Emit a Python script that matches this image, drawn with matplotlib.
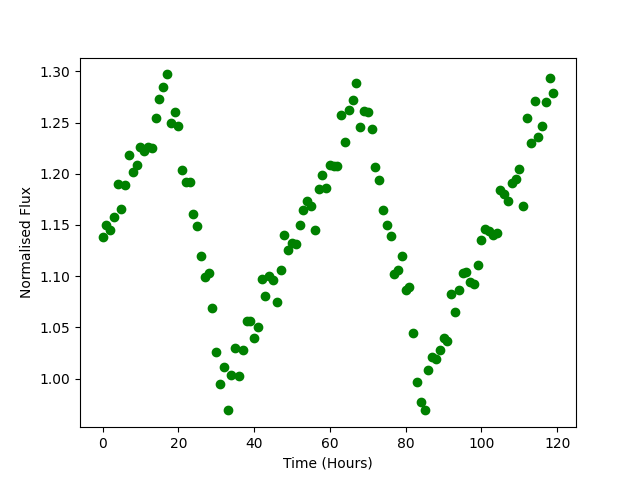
import matplotlib
matplotlib.use("Agg")
import matplotlib.pyplot as plt
import numpy as np

time_hours = np.arange(120)
flux = [
    1.138, 1.150, 1.145, 1.158, 1.190, 1.166, 1.189, 1.218, 1.202, 1.209,
    1.226, 1.222, 1.226, 1.225, 1.254, 1.273, 1.285, 1.297, 1.250, 1.260,
    1.247, 1.204, 1.192, 1.192, 1.161, 1.149, 1.120, 1.099, 1.103, 1.069,
    1.026, 0.995, 1.011, 0.969, 1.004, 1.030, 1.003, 1.028, 1.056, 1.056,
    1.040, 1.050, 1.097, 1.081, 1.100, 1.096, 1.075, 1.106, 1.140, 1.126,
    1.132, 1.131, 1.150, 1.165, 1.173, 1.169, 1.145, 1.185, 1.199, 1.186,
    1.209, 1.208, 1.208, 1.257, 1.231, 1.262, 1.272, 1.289, 1.246, 1.261,
    1.260, 1.244, 1.207, 1.194, 1.165, 1.150, 1.139, 1.102, 1.106, 1.120,
    1.087, 1.089, 1.045, 0.997, 0.977, 0.969, 1.008, 1.021, 1.019, 1.028,
    1.040, 1.037, 1.083, 1.065, 1.087, 1.103, 1.104, 1.094, 1.092, 1.111,
    1.135, 1.146, 1.144, 1.140, 1.142, 1.184, 1.180, 1.173, 1.191, 1.195,
    1.205, 1.169, 1.254, 1.230, 1.271, 1.236, 1.247, 1.270, 1.293, 1.279,
]

fig, ax = plt.subplots(figsize=(6.4, 4.8), dpi=100)
ax.plot(time_hours, flux, 'go')
ax.set_xlabel('Time (Hours)')
ax.set_ylabel('Normalised Flux')
fig.savefig('out.png', dpi=100)
